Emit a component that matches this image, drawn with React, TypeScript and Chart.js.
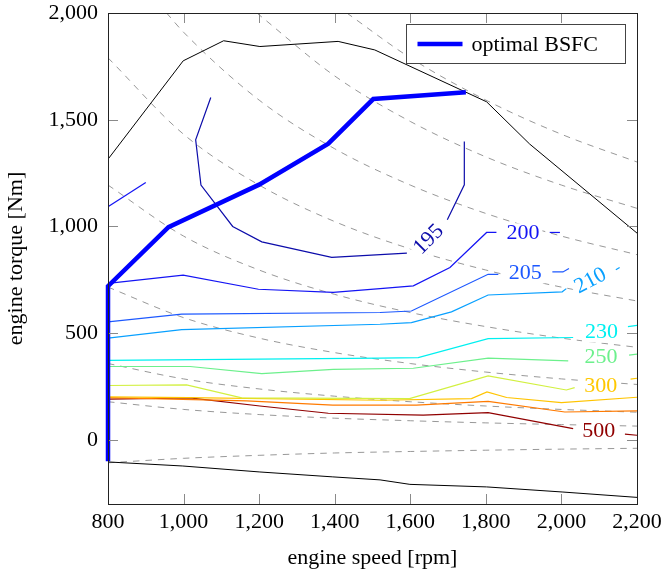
import React, { useEffect, useRef } from 'react';
import { Chart, registerables } from 'chart.js';

Chart.register(...registerables);

const FONT = "'Liberation Serif', 'Times New Roman', serif";

// ---- axis ticks ----
const xTicks = [800, 1000, 1200, 1400, 1600, 1800, 2000, 2200];
const yTicks = [0, 500, 1000, 1500, 2000];

// ---- main curves [rpm, Nm] ----
const optimalBsfc = [[800, -100], [800, 720], [960, 997], [1200, 1196], [1383, 1388], [1502, 1597], [1747, 1629]];
const maxTorque = [[800, 1315], [999, 1776], [1106, 1870], [1202, 1843], [1409, 1867], [1506, 1827], [1802, 1584], [1916, 1386], [2200, 969]];
const minTorque = [[800, -103], [998, -122], [1202, -150], [1395, -173], [1520, -187], [1599, -208], [1802, -220], [2004, -244], [2200, -269]];

// ---- BSFC contours (segments split where labels sit) ----
const c195 = [
  [[1072, 1604], [1032, 1406], [1046, 1194], [1130, 1000], [1207, 928], [1392, 855], [1591, 875]],
  [[1698, 1031], [1743, 1195], [1743, 1398]],
];
const c200 = [
  [[800, 1092], [900, 1206]],
  [[800, 733], [999, 772], [1198, 706], [1396, 691], [1520, 709], [1608, 722], [1705, 808], [1802, 972], [1828, 972]],
  [[1969, 972], [1996, 972]],
];
const c205 = [
  [[800, 553], [995, 589], [1520, 597], [1603, 604], [1806, 776], [1833, 776]],
  [[1976, 787], [2004, 787], [2020, 803]],
];
const c210 = [
  [[800, 477], [995, 517], [1520, 542], [1603, 550], [1709, 600], [1806, 679], [2002, 694], [2013, 709]],
  [[2144, 797], [2154, 808]],
];
const c230 = [
  [[800, 373], [1520, 383], [1621, 386], [1806, 475], [2031, 480]],
  [[2176, 531], [2200, 537]],
];
const c250 = [
  [[800, 344], [1017, 344], [1207, 311], [1396, 331], [1608, 336], [1806, 383], [2018, 370]],
  [[2179, 397], [2200, 402]],
];
const c300 = [
  [[800, 255], [1008, 258], [1154, 197], [1598, 194], [1806, 300], [2013, 234], [2035, 245]],
];
const c300b = [
  [[2183, 285], [2200, 289]],
];
const c350 = [
  [[800, 202], [1012, 198], [1520, 186], [1762, 194], [1803, 225], [1855, 199], [2000, 175], [2200, 200]],
];
const c400 = [
  [[800, 198], [1167, 183], [1395, 163], [1616, 163], [1806, 181], [2009, 131], [2200, 136]],
];
const c500 = [
  [[800, 191], [1017, 197], [1202, 159], [1383, 125], [1634, 116], [1806, 128], [2031, 53]],
  [[2168, 27], [2200, 22]],
];

// ---- iso-power lines ----
const p300 = [[1432, 2000], [1600, 1790], [1800, 1592], [2000, 1432], [2200, 1302]];
const p250 = [[1194, 2000], [1400, 1705], [1600, 1492], [1800, 1326], [2000, 1194], [2200, 1085]];
const p200 = [[955, 2000], [1000, 1910], [1200, 1592], [1400, 1364], [1600, 1194], [1800, 1061], [2000, 955], [2200, 868]];
const p150 = [[800, 1790], [1000, 1432], [1200, 1194], [1400, 1023], [1600, 895], [1800, 796], [2000, 716], [2200, 651]];
const p100 = [[800, 1194], [1000, 955], [1200, 796], [1400, 682], [1600, 597], [1800, 531], [2000, 477], [2200, 434]];
const p60 = [[800, 716], [1000, 573], [1200, 477], [1400, 409], [1600, 358], [1800, 318], [2000, 286], [2200, 260]];
const p30 = [[800, 358], [1000, 286], [1200, 239], [1400, 205], [1600, 179], [1800, 159], [2000, 143], [2200, 130]];
const p15 = [[800, 179], [1000, 143], [1200, 119], [1400, 102], [1600, 90], [1800, 80], [2000, 72], [2200, 65]];
const pNeg = [[800, -107], [1000, -86], [1200, -72], [1400, -61], [1600, -54], [1800, -48], [2000, -43], [2200, -39]];

// ---- contour labels ----
const labelTexts = ['195', '200', '205', '210', '230', '250', '300', '500'];
const labelX = [1649, 1898, 1904, 2077, 2106, 2105, 2104, 2099];
const labelY = [939, 968, 780, 745, 503, 386, 253, 42];
const labelAngle = [-45, 0, 0, -28, 0, 0, 0, 0];

const COL = {
  c195: '#0c0caa',
  c200: '#1414f4',
  c205: '#1c58ff',
  c210: '#08a0ff',
  c230: '#00f0f0',
  c250: '#6cf08c',
  c300: '#d2f040',
  c300b: '#ffc800',
  c350: '#ffc400',
  c400: '#ff7a00',
  c500: '#900000',
};
const labelColors = [COL.c195, COL.c200, COL.c205, COL.c210, COL.c230, COL.c250, COL.c300b, COL.c500];

const toPts = (arr: number[][]) => arr.map(([x, y]) => ({ x, y }));

function lineDs(pts: number[][], color: string, width: number, order: number, extra: any = {}) {
  return {
    data: toPts(pts),
    showLine: true,
    borderColor: color,
    backgroundColor: color,
    borderWidth: width,
    pointRadius: 0,
    pointHoverRadius: 0,
    fill: false,
    tension: 0,
    order,
    ...extra,
  };
}

const zeroPad = (s: any) => {
  s.paddingTop = 0;
  s.paddingBottom = 0;
  s.paddingLeft = 0;
  s.paddingRight = 0;
};

export default function App() {
  const ref = useRef<HTMLCanvasElement>(null);

  useEffect(() => {
    const canvas = ref.current;
    if (!canvas) return;

    const datasets: any[] = [];
    // dashed iso-power lines (behind)
    [p300, p250, p200, p150, p100, p60, p30, p15, pNeg].forEach((p) => {
      datasets.push(lineDs(p, '#8c8c8c', 0.9, 5, { borderDash: [6.5, 6], cubicInterpolationMode: 'monotone' }));
    });
    const contours: [number[][][], string][] = [
      [c195, COL.c195], [c200, COL.c200], [c205, COL.c205], [c210, COL.c210], [c230, COL.c230],
      [c250, COL.c250], [c300, COL.c300], [c300b, COL.c300b], [c350, COL.c350], [c400, COL.c400], [c500, COL.c500],
    ];
    contours.forEach(([segs, color]) => segs.forEach((s) => datasets.push(lineDs(s, color, 1.2, 3))));
    datasets.push(lineDs(maxTorque, '#000000', 1, 2));
    datasets.push(lineDs(minTorque, '#000000', 1, 2));
    const bsfc = lineDs(optimalBsfc, '#0000ff', 4.5, 0, { label: 'optimal BSFC', borderJoinStyle: 'miter', clip: 6 });
    datasets.push(bsfc);

    const labelPlugin = {
      id: 'contourLabels',
      afterDatasetsDraw(chart: any) {
        const { ctx, scales } = chart;
        ctx.save();
        ctx.font = `22px ${FONT}`;
        labelTexts.forEach((t, i) => {
          const px = scales.x.getPixelForValue(labelX[i]);
          const py = scales.y.getPixelForValue(labelY[i]);
          ctx.save();
          ctx.translate(px, py);
          ctx.rotate((labelAngle[i] * Math.PI) / 180);
          const w = ctx.measureText(t).width;
          ctx.fillStyle = '#ffffff';
          ctx.fillRect(-w / 2 - 3, -10, w + 6, 20);
          ctx.fillStyle = labelColors[i];
          ctx.textAlign = 'center';
          ctx.textBaseline = 'middle';
          ctx.fillText(t, 0, 0);
          ctx.restore();
        });
        ctx.restore();
      },
    };

    const framePlugin = {
      id: 'frameTicksLegend',
      afterDraw(chart: any) {
        const { ctx, chartArea: a, scales } = chart;
        ctx.save();
        // inward ticks
        ctx.strokeStyle = '#8a8a8a';
        ctx.lineWidth = 1;
        const L = 10;
        ctx.beginPath();
        xTicks.forEach((v) => {
          if (v === xTicks[0] || v === xTicks[xTicks.length - 1]) return;
          const px = Math.round(scales.x.getPixelForValue(v)) + 0.5;
          ctx.moveTo(px, a.bottom);
          ctx.lineTo(px, a.bottom - L);
          ctx.moveTo(px, a.top);
          ctx.lineTo(px, a.top + L);
        });
        yTicks.forEach((v) => {
          const py = Math.round(scales.y.getPixelForValue(v)) + 0.5;
          if (py < a.top + 2) return;
          ctx.moveTo(a.left, py);
          ctx.lineTo(a.left + L, py);
          ctx.moveTo(a.right, py);
          ctx.lineTo(a.right - L, py);
        });
        ctx.stroke();
        // frame
        ctx.strokeStyle = '#222222';
        ctx.lineWidth = 1;
        ctx.strokeRect(a.left + 0.5, a.top + 0.5, a.right - a.left, a.bottom - a.top);

        // legend (top right, inside plot)
        const bx = 406.5, by = 24.5, bw = 219, bh = 39;
        ctx.fillStyle = '#ffffff';
        ctx.fillRect(bx, by, bw, bh);
        ctx.strokeStyle = '#444444';
        ctx.strokeRect(bx, by, bw, bh);
        ctx.strokeStyle = bsfc.borderColor;
        ctx.lineWidth = bsfc.borderWidth;
        ctx.beginPath();
        ctx.moveTo(bx + 11, by + bh / 2);
        ctx.lineTo(bx + 56, by + bh / 2);
        ctx.stroke();
        ctx.fillStyle = '#000000';
        ctx.font = `22px ${FONT}`;
        ctx.textAlign = 'left';
        ctx.textBaseline = 'middle';
        ctx.fillText(bsfc.label, bx + 65, by + bh / 2 + 1);
        ctx.restore();
      },
    };

    const chart = new Chart(canvas, {
      type: 'scatter',
      data: { datasets },
      options: {
        animation: false,
        responsive: false,
        events: [],
        layout: { padding: { top: 13, right: 26, left: 0, bottom: 0 } },
        plugins: { legend: { display: false }, tooltip: { enabled: false } },
        scales: {
          x: {
            type: 'linear',
            min: 800,
            max: 2200,
            afterFit: (s: any) => { s.height = 72; zeroPad(s); },
            afterBuildTicks: (s: any) => { s.ticks = xTicks.map((v) => ({ value: v })); },
            grid: { display: false, drawTicks: false },
            border: { display: false },
            ticks: {
              color: '#000',
              font: { family: FONT, size: 22 },
              padding: 5,
              maxRotation: 0,
              autoSkip: false,
              callback: (v: any) => Number(v).toLocaleString('en-US'),
            },
            title: { display: true, text: 'engine speed [rpm]', color: '#000', font: { family: FONT, size: 22 }, padding: 5 },
          },
          y: {
            type: 'linear',
            min: -300,
            max: 2000,
            afterFit: (s: any) => { s.width = 108; zeroPad(s); },
            afterBuildTicks: (s: any) => { s.ticks = yTicks.map((v) => ({ value: v })); },
            grid: { display: false, drawTicks: false },
            border: { display: false },
            ticks: {
              color: '#000',
              font: { family: FONT, size: 22 },
              padding: 10,
              autoSkip: false,
              callback: (v: any) => Number(v).toLocaleString('en-US'),
            },
            title: { display: true, text: 'engine torque [Nm]', color: '#000', font: { family: FONT, size: 22 }, padding: 3 },
          },
        },
      },
      plugins: [labelPlugin, framePlugin],
    } as any);

    return () => chart.destroy();
  }, []);

  return (
    <div style={{ position: 'fixed', left: 0, top: 0, width: 663, height: 576, background: '#ffffff' }}>
      <canvas ref={ref} width={663} height={576} style={{ width: 663, height: 576, display: 'block' }} />
    </div>
  );
}
